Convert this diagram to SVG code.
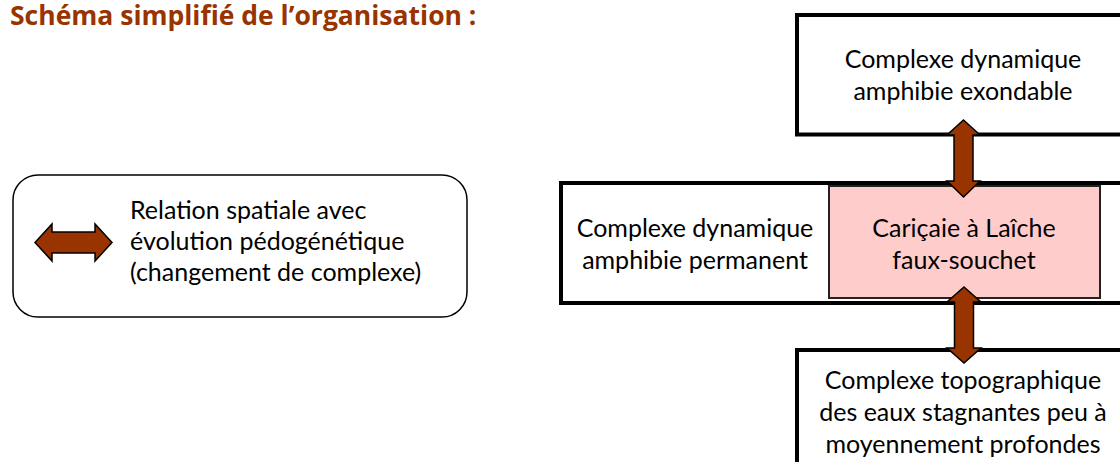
<svg xmlns="http://www.w3.org/2000/svg" width="1120" height="462" viewBox="0 0 1120 462">
<style>
  .t { font-family: Lato, "Open Sans", sans-serif; font-size: 25px; fill: #000; }
  .c { text-anchor: middle; }
  .box { fill: #fff; stroke: #000; stroke-width: 4; }
  .pink { fill: #FFCCCC; stroke: #222; stroke-width: 2; }
  .arrow { fill: #993300; stroke: #000; stroke-width: 1.5; stroke-linejoin: miter; }
  .title { font-family: "Open Sans", Lato, sans-serif; font-size: 26.5px; font-weight: bold; fill: #993300; }
</style>
<rect width="1120" height="462" fill="#fff"/>
<text class="title" x="10" y="25">Schéma simplifié de l’organisation :</text>

<g id="legend">
  <rect x="13" y="175" width="454" height="142" rx="25" ry="25" fill="#fff" stroke="#000" stroke-width="1.5"/>
  <path class="arrow" d="M35,242.5 L52,224 L52,232 L95,232 L95,224 L112,242.5 L95,261 L95,253 L52,253 L52,261 Z"/>
  <text class="t" x="130" y="219">Relation spatiale avec</text>
  <text class="t" x="130" y="250">évolution pédogénétique</text>
  <text class="t" x="130" y="281">(changement de complexe)</text>
</g>

<g id="node-exondable">
  <rect class="box" x="797" y="15" width="340" height="119.5"/>
  <text class="t c" x="963" y="68">Complexe dynamique</text>
  <text class="t c" x="963" y="100">amphibie exondable</text>
</g>

<g id="node-permanent">
  <rect class="box" x="561" y="183" width="580" height="120"/>
  <text class="t c" x="695" y="237">Complexe dynamique</text>
  <text class="t c" x="695" y="269">amphibie permanent</text>
</g>

<g id="node-caricaie">
  <rect class="pink" x="829" y="186" width="271" height="112"/>
  <text class="t c" x="964" y="237">Cariçaie à Laîche</text>
  <text class="t c" x="964" y="269">faux-souchet</text>
</g>

<g id="node-topographique">
  <rect class="box" x="797" y="350" width="340" height="130"/>
  <text class="t c" x="963" y="389">Complexe topographique</text>
  <text class="t c" x="963" y="421">des eaux stagnantes peu à</text>
  <text class="t c" x="963" y="453">moyennement profondes</text>
</g>

<g id="connectors">
  <path class="arrow" d="M963.5,120 L980,135 L973,135 L973,181 L980,181 L963.5,197 L947,181 L954,181 L954,135 L947,135 Z"/>
  <path class="arrow" d="M964,287 L981,302 L973.5,302 L973.5,348 L981,348 L964,363 L947,348 L954.5,348 L954.5,302 L947,302 Z"/>
</g>
</svg>
